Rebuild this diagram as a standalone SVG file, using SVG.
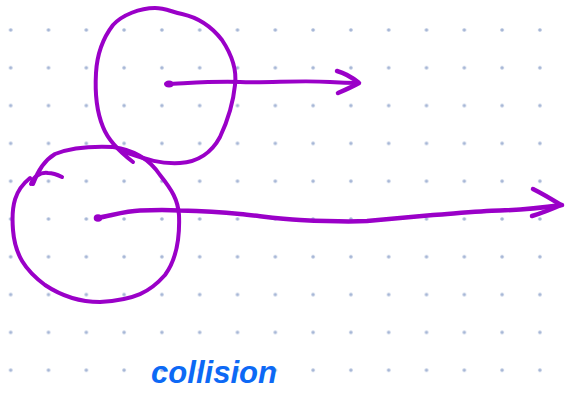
<svg xmlns="http://www.w3.org/2000/svg" width="571" height="398" viewBox="0 0 571 398">
  <defs>
    <pattern id="dots" patternUnits="userSpaceOnUse" x="-8.2" y="11.1" width="37.8" height="37.8">
      <circle cx="18.9" cy="18.9" r="1.8" fill="#a6b6d6"/>
    </pattern>
    <style>
      .ink { fill: none; stroke: #9a00c8; stroke-width: 4; stroke-linecap: round; stroke-linejoin: round; }
      .thick { stroke-width: 4.5; }
      .blob { fill: #9a00c8; }
      .label { font-family: "Liberation Sans", Arial, sans-serif; font-weight: bold; font-style: italic; fill: #0d69f5; }
    </style>
  </defs>
  <rect width="571" height="398" fill="#ffffff"/>
  <rect width="571" height="398" fill="url(#dots)"/>

  <g id="circle-top">
    <path class="ink" d="M 133 162 C 120 152, 108 140, 103 127 C 96 110, 95 90, 96 73 C 97 55, 103 38, 113 25 C 122 15, 140 8, 155 8 C 165 8, 172 12, 182 14 C 200 18, 212 27, 222 40 C 232 55, 237 70, 235 85 C 233 105, 228 120, 220 137 C 212 152, 198 162, 180 163 C 160 164, 148 160, 125 152"/>
  </g>

  <g id="circle-bottom">
    <path class="ink" d="M 33 184 C 38 170, 45 160, 55 154 C 70 148, 90 146, 113 147 C 135 150, 150 160, 160 175 C 172 190, 178 200, 179 215 C 180 240, 176 260, 165 275 C 150 292, 135 300, 100 302 C 80 302, 60 295, 45 285 C 25 270, 15 255, 13 230 C 11 205, 15 190, 30 178"/>
    <path class="ink" stroke-width="3" d="M 31 184 C 33 177, 40 172, 48 173 C 54 173, 58 175, 62 177"/>
  </g>

  <g id="connectors">
    <g id="arrow-top">
      <ellipse class="blob" cx="169" cy="84" rx="4.5" ry="3.5"/>
      <path class="ink" d="M 166 84 C 190 83, 215 81, 240 82 C 270 83, 300 80, 330 82 C 345 83, 352 83, 358 83"/>
      <path class="ink thick" d="M 337 71 C 348 74, 354 79, 359 83 C 352 87, 345 90, 338 93"/>
    </g>
    <g id="arrow-bottom">
      <ellipse class="blob" cx="98" cy="218" rx="4.3" ry="3.8"/>
      <path class="ink thick" d="M 97 218 C 110 216, 125 211, 140 210.5 C 155 210, 170 210, 180 210.5 C 200 211, 220 212, 240 214 C 260 216, 280 219, 300 220 C 330 221.5, 350 222, 367 221 C 390 219, 410 217, 433 215 C 460 213, 480 211, 500 210.5 C 520 210, 540 208, 562 205"/>
      <path class="ink thick" d="M 533 189 C 543 194, 553 200, 561 205 C 552 209, 542 213, 532 216"/>
    </g>
  </g>

  <g id="label">
    <text class="label" x="151" y="383" font-size="31" textLength="126" lengthAdjust="spacingAndGlyphs">collision</text>
  </g>
</svg>
